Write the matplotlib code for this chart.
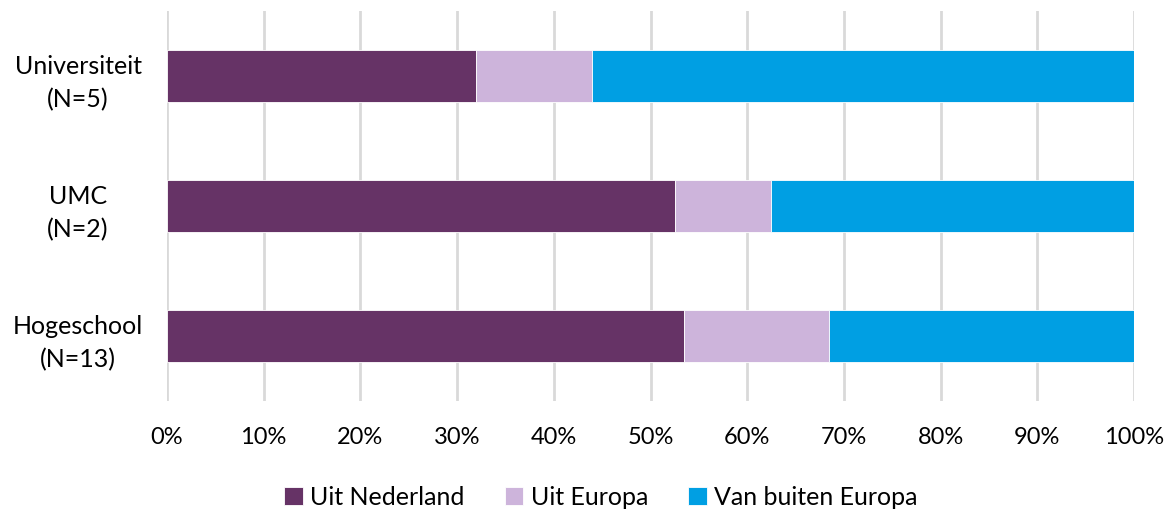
import matplotlib
matplotlib.use("Agg")
import matplotlib.pyplot as plt
from matplotlib.ticker import PercentFormatter

plt.rcParams["font.family"] = ["Lato", "DejaVu Sans"]

categories = ["Universiteit\n(N=5)", "UMC\n(N=2)", "Hogeschool\n(N=13)"]
series_names = ["Uit Nederland", "Uit Europa", "Van buiten Europa"]
uit_nederland = [32.0, 52.5, 53.5]
uit_europa = [12.0, 10.0, 15.0]
buiten_europa = [56.0, 37.5, 31.5]
colors = ["#663366", "#CDB4DB", "#009FE3"]

fig = plt.figure(figsize=(11.72, 5.11), dpi=100)
ax = fig.add_axes([167 / 1172, 1 - 401 / 511, 967 / 1172, 390 / 511])

ypos = list(range(len(categories)))
left = [0.0] * len(categories)
for name, vals, col in zip(series_names, [uit_nederland, uit_europa, buiten_europa], colors):
    ax.barh(ypos, vals, left=left, height=0.4, color=col, label=name,
            edgecolor="white", linewidth=0.6, zorder=3)
    left = [a + b for a, b in zip(left, vals)]

ax.set_xlim(0, 100)
ax.set_ylim(len(categories) - 0.5, -0.5)
ax.set_yticks(ypos)
ax.set_yticklabels(categories, fontsize=18, color="#000000", ha="center",
                   linespacing=1.5)
ax.tick_params(axis="y", length=0, pad=64)
ax.set_xticks(range(0, 101, 10))
ax.xaxis.set_major_formatter(PercentFormatter(decimals=0))
ax.tick_params(axis="x", length=0, labelsize=17, pad=19)
ax.grid(axis="x", color="#D9D9D9", linewidth=2, zorder=0)
for s in ax.spines.values():
    s.set_visible(False)

fig.legend(*ax.get_legend_handles_labels(), loc="center",
           bbox_to_anchor=(601 / 1172, 1 - 497 / 511), ncol=3, frameon=False,
           fontsize=18, handlelength=0.75, handleheight=0.75, handletextpad=0.3,
           columnspacing=1.6)

fig.savefig("out.png", dpi=100, facecolor="white")
